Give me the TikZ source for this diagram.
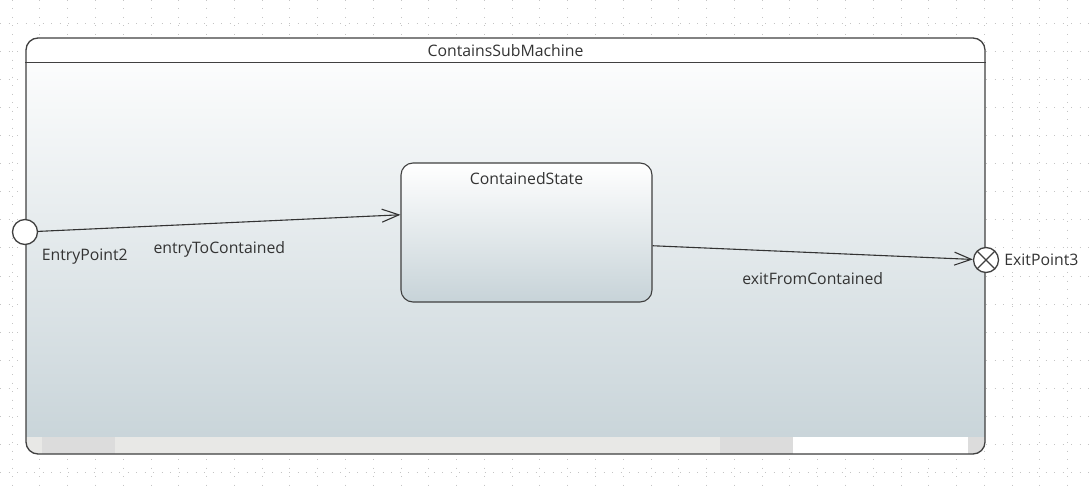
\documentclass[tikz,border=0pt]{standalone}
\usepackage{fontspec}
\setmainfont{Open Sans}
\usetikzlibrary{positioning,arrows.meta}
\definecolor{framegray}{HTML}{404040}
\definecolor{textgray}{HTML}{333333}
\definecolor{stateblue}{HTML}{C7D3D8}
\definecolor{gridgray}{HTML}{C4C4C4}
\definecolor{stripgray}{HTML}{DCDCDC}
\definecolor{striplight}{HTML}{E8E8E6}

\begin{document}
\begin{tikzpicture}[x=1pt, y=-1pt, font=\fontsize{15.8}{18}\selectfont, text=textgray,
        gridline/.style={gridgray, line width=0.8pt, dash pattern=on 1pt off 7.5pt},
        machine/.style={rectangle, rounded corners=12pt, draw=framegray, line width=1.3pt,
        top color=white, bottom color=stateblue, minimum width=959pt, minimum height=416pt,
        path picture={
          \fill[white, sharp corners] (path picture bounding box.north west) rectangle ([yshift=-25pt]path picture bounding box.north east);
          \foreach \a/\b/\c in {0/16/striplight, 16/89/stripgray, 89/694/striplight, 694/767/stripgray, 767/942/white, 942/959/stripgray}
            \fill[\c, sharp corners] ([xshift=\a pt, yshift=17pt]path picture bounding box.south west) rectangle ([xshift=\b pt]path picture bounding box.south west);
        }},
        state/.style={rectangle, rounded corners=12pt, draw=framegray, line width=1.1pt,
        top color=white, bottom color=stateblue, minimum width=251pt, minimum height=139pt},
        entrypoint/.style={circle, draw=framegray, fill=white, line width=1.3pt, minimum size=25pt, inner sep=0pt},
        exitpoint/.style={entrypoint, path picture={
          \draw[framegray, line width=1.3pt] (path picture bounding box.north west) -- (path picture bounding box.south east);
          \draw[framegray, line width=1.3pt] (path picture bounding box.south west) -- (path picture bounding box.north east);
        }},
        transition/.style={draw=textgray, line width=1.1pt, -{Straight Barb[length=17pt, width=13pt]}}]
        \useasboundingbox (0,0) rectangle (1091,487);
        \fill[white] (0,0) rectangle (1091,487);

        % dotted design grid
        \foreach \gx in {0,...,38}
          \draw[gridline] (12+27.78*\gx, 0) -- (12+27.78*\gx, 487);
        \foreach \gy in {0,...,16}
          \draw[gridline] (0, 23+28.1*\gy) -- (1091, 23+28.1*\gy);

        \node[machine, label={[anchor=north, yshift=-4pt]north:ContainsSubMachine}] (machine) at (505.5,246) {};
        \draw[framegray, line width=1.3pt] ([yshift=-25pt]machine.north west) -- ([yshift=-25pt]machine.north east);

        \node[state, label={[anchor=north, yshift=-7pt]north:ContainedState}] (contained) at (526.5,232.5) {};
        \node[entrypoint] (entry) at (25,232) {};
        \node[exitpoint] (exit) at (986,260) {};

        \node (entrylabel) [below right=4pt and 4pt of entry] {EntryPoint2};
        \node[fill=white, inner sep=1pt] (exitlabel) [right=4pt of exit] {ExitPoint3};

        \path (entry) edge [transition] node[below=15pt, pos=0.5] {entryToContained} (contained.172.5);
        \path (contained.-6) edge [transition] node[below=16pt] {exitFromContained} (exit);
\end{tikzpicture}
\end{document}
